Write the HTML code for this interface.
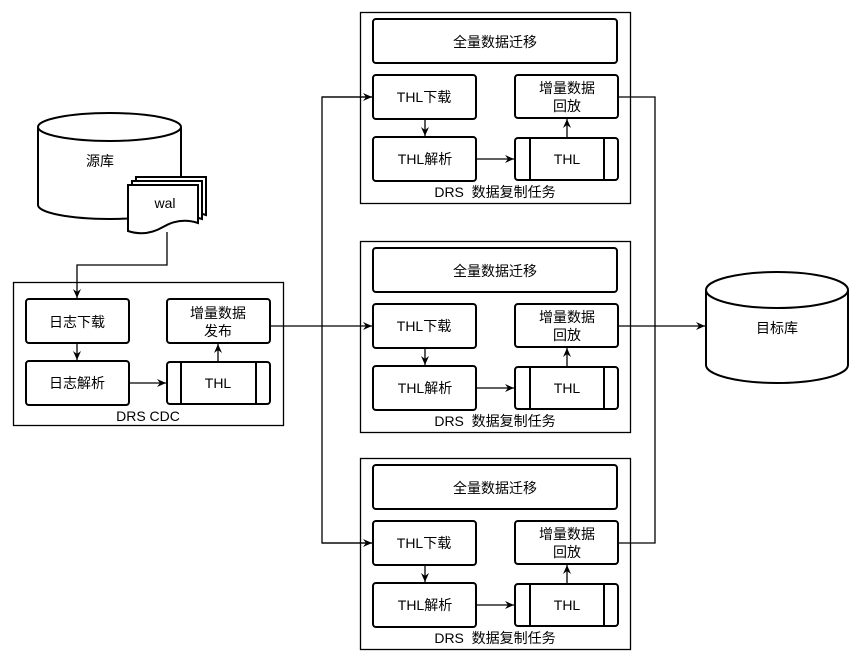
<!DOCTYPE html>
<html><head><meta charset="utf-8"><style>body{margin:0;background:#fff}svg{display:block}text{font-family:"Liberation Sans","Noto Sans CJK SC",sans-serif;font-size:14px;fill:#000;text-anchor:middle;dominant-baseline:central}</style></head><body>
<svg width="863" height="662" viewBox="0 0 863 662" xmlns="http://www.w3.org/2000/svg">
<defs><marker id="a" markerWidth="10" markerHeight="10" refX="9" refY="5" orient="auto" markerUnits="userSpaceOnUse"><path d="M0,1 L9,5 L0,9 L3,5 Z" fill="#000"/></marker></defs>
<g fill="none" stroke="#000" stroke-width="1.3">
<path d="M38,127 L38,205 A71.5,14 0 0 0 181,205 L181,127" fill="#fff" stroke-width="2"/>
<ellipse cx="109.5" cy="127" rx="71.5" ry="14" fill="#fff" stroke-width="2"/>
<path d="M136,177 h70 v38 q-18,-6 -35,4 t-35,4 z" fill="#fff" stroke-width="2"/>
<path d="M132,181 h70 v38 q-18,-6 -35,4 t-35,4 z" fill="#fff" stroke-width="2"/>
<path d="M128,185 h70 v38 q-18,-6 -35,4 t-35,4 z" fill="#fff" stroke-width="2"/>
<path d="M706,290 L706,365 A71,18 0 0 0 848,365 L848,290" fill="#fff" stroke-width="2"/>
<ellipse cx="777" cy="290" rx="71" ry="18" fill="#fff" stroke-width="2"/>
<rect x="13.5" y="282.5" width="270" height="143"/>
<rect x="26" y="299" width="103" height="44" rx="3" stroke-width="2"/>
<rect x="167" y="299" width="103" height="44" rx="3" stroke-width="2"/>
<rect x="26" y="361" width="103" height="44" rx="3" stroke-width="2"/>
<rect x="167" y="362" width="103" height="42" rx="3" stroke-width="2"/>
<path d="M181,362 v42 M256,362 v42" stroke-width="2"/>
<path d="M167,232 V265 H77 V298" marker-end="url(#a)"/>
<path d="M77,343 V360" marker-end="url(#a)"/>
<path d="M129,383 H166" marker-end="url(#a)"/>
<path d="M218,362 V344" marker-end="url(#a)"/>
<path d="M270,326 H372" marker-end="url(#a)"/>
<path d="M372,97 H322 V543 H372" />
<path d="M322,97 H372" marker-end="url(#a)"/>
<path d="M322,543 H372" marker-end="url(#a)"/>
<path d="M618,97 H655 V543 H618"/>
<path d="M618,326 H705" marker-end="url(#a)"/>
</g>
<g id="t1" fill="none" stroke="#000" stroke-width="1.3">
<rect x="360.5" y="12.5" width="270" height="191"/>
<rect x="373" y="19" width="244" height="44" rx="3" stroke-width="2"/>
<rect x="373" y="75" width="103" height="44" rx="3" stroke-width="2"/>
<rect x="515" y="75" width="103" height="43" rx="3" stroke-width="2"/>
<rect x="373" y="137" width="103" height="44" rx="3" stroke-width="2"/>
<rect x="515" y="138" width="103" height="42" rx="3" stroke-width="2"/>
<path d="M530,138 v42 M604,138 v42" stroke-width="2"/>
<path d="M425,119 V136" marker-end="url(#a)"/>
<path d="M476,159 H514" marker-end="url(#a)"/>
<path d="M567,138 V119" marker-end="url(#a)"/>
</g>
<use href="#t1" y="229"/>
<use href="#t1" y="446"/>
<g>
<text x="100" y="161">源库</text>
<text x="165" y="203">wal</text>
<text x="777" y="328">目标库</text>
<text x="77" y="322">日志下载</text>
<text x="77" y="383">日志解析</text>
<text x="218" y="313">增量数据</text>
<text x="218" y="331">发布</text>
<text x="218" y="383">THL</text>
<text x="148" y="416">DRS CDC</text>
</g>
<g id="l1">
<text x="495" y="42">全量数据迁移</text>
<text x="424" y="97">THL下载</text>
<text x="425" y="159">THL解析</text>
<text x="567" y="88">增量数据</text>
<text x="567" y="106">回放</text>
<text x="567" y="159">THL</text>
<text x="495" y="192">DRS&#160;&#160;数据复制任务</text>
</g>
<use href="#l1" y="229"/>
<use href="#l1" y="446"/>
</svg>
</body></html>
